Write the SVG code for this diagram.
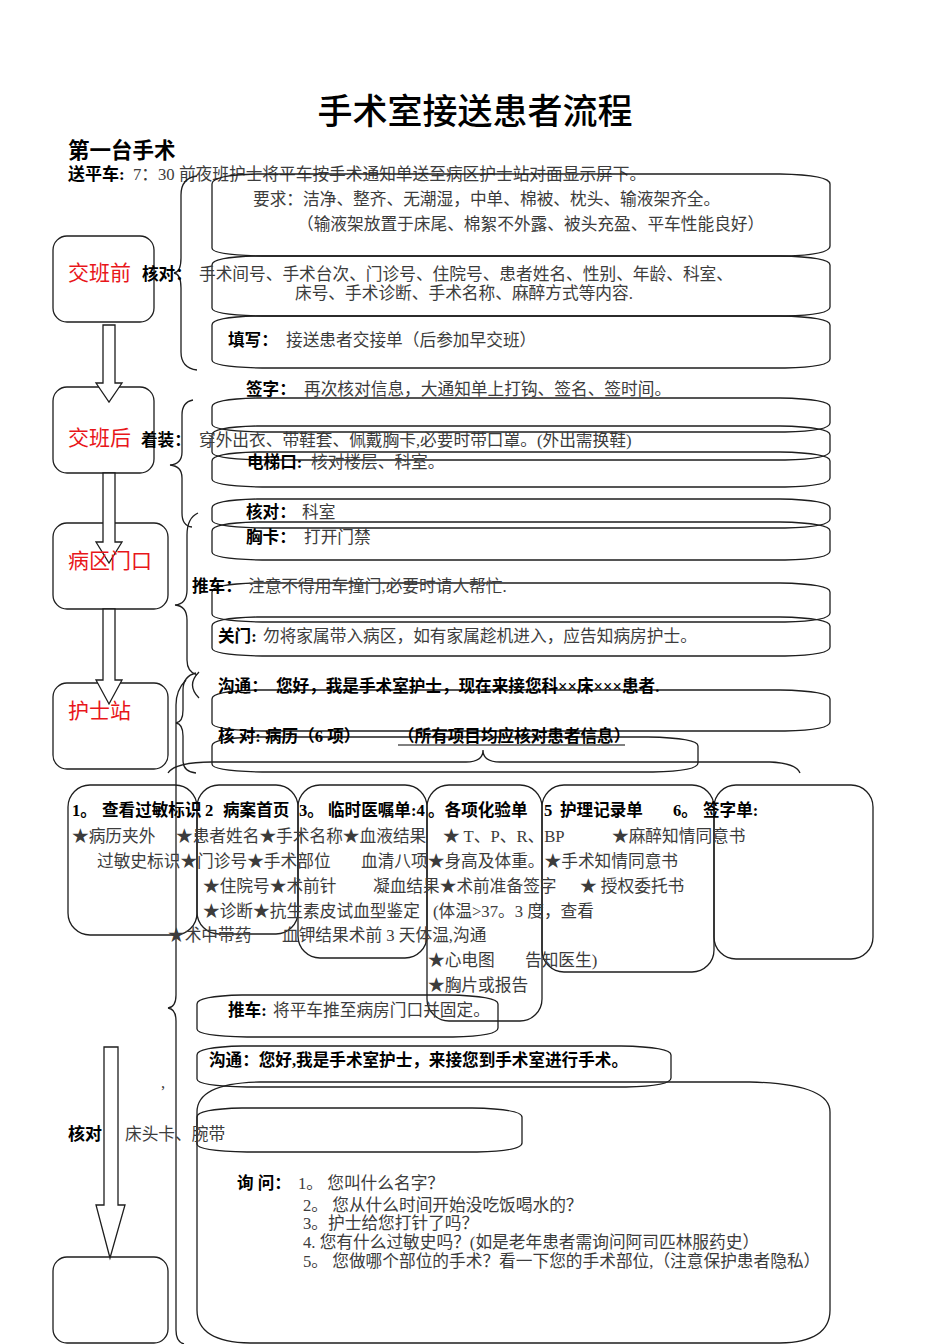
<svg xmlns="http://www.w3.org/2000/svg" width="950" height="1344" viewBox="0 0 950 1344">
<style>
.t{font-family:"Liberation Serif","Noto Sans CJK SC",serif;font-size:16.7px;fill:#3c3c3c}
.b{font-family:"Liberation Serif","Noto Sans CJK SC",sans-serif;font-size:16.6px;font-weight:bold;fill:#000}
.r{font-family:"Liberation Sans","Noto Sans CJK SC",sans-serif;font-size:21px;fill:#e8161a}
.s{fill:none;stroke:#1e1e1e;stroke-width:1.3}
.box{fill:none;stroke:#1e1e1e;stroke-width:1.3}
.arr{fill:#fff;stroke:#1e1e1e;stroke-width:1.3}
</style>
<rect width="950" height="1344" fill="#fff"/>

<g id="header">
<text x="475" y="124" text-anchor="middle" style="font-family:'Liberation Sans','Noto Sans CJK SC',sans-serif;font-size:35px;font-weight:500;fill:#000">手术室接送患者流程</text>
<text x="68" y="158" style="font-family:'Liberation Sans','Noto Sans CJK SC',sans-serif;font-size:21.5px;font-weight:bold;fill:#000">第一台手术</text>
<text x="68" y="180" class="b" style="font-size:17px">送平车:</text>
<text x="133" y="180" class="t">7：30 前夜班护士将平车按手术通知单送至病区护士站对面显示屏下。</text>
</g>

<g id="stage-boxes">
<rect x="53" y="236" width="101" height="86" rx="14" class="box"/>
<rect x="53" y="387" width="101" height="86" rx="14" class="box"/>
<rect x="53" y="523" width="115" height="86" rx="14" class="box"/>
<rect x="53" y="683" width="115" height="86" rx="14" class="box"/>
<rect x="53" y="1257" width="115" height="86" rx="14" class="box"/>
</g>

<g id="connectors">
<path class="arr" d="M103,325 H115 V383 H122 L109,402 L96,383 H103 Z"/>
<path class="arr" d="M103,473 H115 V542 H122 L109,563 L96,542 H103 Z"/>
<path class="arr" d="M103,609 H115 V680 H122 L109,704 L96,680 H103 Z"/>
<path class="arr" d="M104,1047 H118 V1205 H125 L110,1258 L96,1205 H104 Z"/>
<path class="s" d="M197,176 Q181,178 181,195 V258 Q181,272 174,273 Q181,274 181,288 V352 Q181,368 197,370"/>
<path class="s" d="M193,400 Q182,402 182,415 V452 Q182,464 170,465 Q182,466 182,478 V513 Q182,526 192,527"/>
<path class="s" d="M198,513 Q187,518 187,535 V590 Q187,604 175,605 Q187,606 187,620 V660 Q187,672 197,675"/>
<path class="s" d="M199,672 Q186,685 199,698"/>
<path class="s" d="M196,673 Q183,676 183,690 V710 Q183,722 176,723 Q183,724 183,736 V760 Q183,772 196,773"/>
<path class="s" d="M186,680 Q176,690 176,705 V995 Q176,1007 168,1008 Q176,1009 176,1021 V1330 Q176,1342 184,1344"/>
<path class="s" d="M168,773 Q175,762 212,762 H466 Q483,762 483,750 Q483,762 500,762 H770 Q796,763 800,773"/>
</g>

<g id="scroll-boxes">
<path class="s" d="M212,248 V184 Q212,175 257,174 H780 Q830,175 830,184 V246 Q830,255 785,256 H262 Q212,255 212,248 Z"/>
<path class="s" d="M212,308 V265 Q212,257 257,256 H780 Q830,257 830,265 V307 Q830,315 785,316 H262 Q212,315 212,308 Z"/>
<path class="s" d="M212,360 V325 Q212,317 257,316 H780 Q830,317 830,325 V359 Q830,367 785,368 H262 Q212,367 212,360 Z"/>
<path class="s" d="M212,424 V407 Q212,399 257,398 H780 Q830,399 830,407 V423 Q830,431 785,432 H262 Q212,431 212,424 Z"/>
<path class="s" d="M212,452 V435 Q212,427 257,426 H780 Q830,427 830,435 V451 Q830,459 785,460 H262 Q212,459 212,452 Z"/>
<path class="s" d="M212,479 V461 Q212,453 257,452 H780 Q830,453 830,461 V478 Q830,486 785,487 H262 Q212,486 212,479 Z"/>
<path class="s" d="M212,520 V508 Q212,500 257,499 H780 Q830,500 830,508 V519 Q830,527 785,528 H262 Q212,527 212,520 Z"/>
<path class="s" d="M212,552 V531 Q212,523 257,522 H780 Q830,523 830,531 V551 Q830,559 785,560 H262 Q212,559 212,552 Z"/>
<path class="s" d="M212,614 V592 Q212,584 257,583 H780 Q830,584 830,592 V613 Q830,621 785,622 H262 Q212,621 212,614 Z"/>
<path class="s" d="M212,648 V626 Q212,618 257,617 H780 Q830,618 830,626 V647 Q830,655 785,656 H262 Q212,655 212,648 Z"/>
<path class="s" d="M212,723 V699 Q212,691 257,690 H780 Q830,691 830,699 V722 Q830,730 785,731 H262 Q212,730 212,723 Z"/>
<path class="s" d="M212,764 V746 Q212,738 257,737 H648 Q698,738 698,746 V763 Q698,771 653,772 H262 Q212,771 212,764 Z"/>
<path class="s" d="M197,1029 V1004 Q197,996 242,995 H448 Q498,996 498,1004 V1028 Q498,1036 453,1037 H247 Q197,1036 197,1029 Z"/>
<path class="s" d="M197,1079 V1055 Q197,1047 242,1046 H621 Q671,1047 671,1055 V1078 Q671,1086 626,1087 H247 Q197,1086 197,1079 Z"/>
<path class="s" d="M197,1310 V1112 Q197,1083 260,1082 H750 Q830,1084 830,1112 V1310 Q830,1342 780,1343 H250 Q197,1342 197,1310 Z"/>
<path class="s" d="M197,1144 V1117 Q197,1109 242,1108 H472 Q522,1109 522,1117 V1143 Q522,1151 477,1152 H247 Q197,1151 197,1144 Z"/>
</g>

<g id="record-boxes">
<rect x="68" y="785" width="129" height="150" rx="22" class="box"/>
<rect x="197" y="785" width="101" height="149" rx="22" class="box"/>
<rect x="298" y="785" width="129" height="173" rx="22" class="box"/>
<rect x="427" y="785" width="115" height="236" rx="22" class="box"/>
<rect x="542" y="785" width="172" height="187" rx="22" class="box"/>
<rect x="714" y="785" width="159" height="174" rx="22" class="box"/>
</g>

<g id="stage-labels">
<text x="68" y="280" class="r">交班前</text>
<text x="68" y="445" class="r">交班后</text>
<text x="68" y="568" class="r">病区门口</text>
<text x="68" y="718" class="r">护士站</text>
</g>

<g id="before-shift">
<text x="253" y="205" class="t">要求：洁净、整齐、无潮湿，中单、棉被、枕头、输液架齐全。</text>
<text x="297" y="230" class="t">（输液架放置于床尾、棉絮不外露、被头充盈、平车性能良好）</text>
<text x="142" y="280" class="b">核对：</text>
<text x="199" y="280" class="t">手术间号、手术台次、门诊号、住院号、患者姓名、性别、年龄、科室、</text>
<text x="295" y="299" class="t">床号、手术诊断、手术名称、麻醉方式等内容.</text>
<text x="228" y="346" class="b">填写：</text>
<text x="286" y="346" class="t">接送患者交接单（后参加早交班）</text>
</g>

<g id="after-shift">
<text x="246" y="395" class="b">签字：</text>
<text x="304" y="395" class="t">再次核对信息，大通知单上打钩、签名、签时间。</text>
<text x="141" y="446" class="b">着装：</text>
<text x="199" y="446" class="t">穿外出衣、带鞋套、佩戴胸卡,必要时带口罩。(外出需换鞋)</text>
<text x="247" y="468" class="b">电梯口:</text>
<text x="311" y="468" class="t">核对楼层、科室。</text>
</g>

<g id="ward-door">
<text x="246" y="518" class="b">核对：</text>
<text x="302" y="518" class="t">科室</text>
<text x="246" y="543" class="b">胸卡：</text>
<text x="304" y="543" class="t">打开门禁</text>
<text x="192" y="592" class="b">推车：</text>
<text x="248" y="592" class="t">注意不得用车撞门,必要时请人帮忙.</text>
<text x="218" y="642" class="b">关门:</text>
<text x="263" y="642" class="t">勿将家属带入病区，如有家属趁机进入，应告知病房护士。</text>
</g>

<g id="nurse-station">
<text x="218" y="692" class="b">沟通：</text>
<text x="276" y="692" class="b">您好，我是手术室护士，现在来接您科××床×××患者.</text>
<text x="218" y="742" class="b">核 对: 病历（6 项）</text>
<text x="398" y="742" class="b">（所有项目均应核对患者信息）</text>
<line x1="398" y1="745" x2="625" y2="745" stroke="#000" stroke-width="1"/>
</g>

<g id="records">
<text x="72" y="816" class="b">1。</text>
<text x="102" y="816" class="b">查看过敏标识</text>
<text x="205" y="816" class="b">2</text>
<text x="223" y="816" class="b">病案首页</text>
<text x="299" y="816" class="b">3。</text>
<text x="328" y="816" class="b">临时医嘱单:4</text>
<text x="428" y="816" class="b">。各项化验单</text>
<text x="544" y="816" class="b">5</text>
<text x="560" y="816" class="b">护理记录单</text>
<text x="673" y="816" class="b">6。</text>
<text x="703" y="816" class="b">签字单:</text>

<text x="72" y="842" class="t">★病历夹外</text>
<text x="176" y="842" class="t">★患者姓名★手术名称★血液结果</text>
<text x="443" y="842" class="t">★ T、P、R、BP</text>
<text x="612" y="842" class="t">★麻醉知情同意书</text>

<text x="97" y="867" class="t">过敏史标识★门诊号★手术部位</text>
<text x="361" y="867" class="t">血清八项★身高及体重。★手术知情同意书</text>

<text x="203" y="892" class="t">★住院号★术前针</text>
<text x="373" y="892" class="t">凝血结果★术前准备签字</text>
<text x="580" y="892" class="t">★ 授权委托书</text>

<text x="203" y="917" class="t">★诊断★抗生素皮试血型鉴定</text>
<text x="433" y="917" class="t">(体温&gt;37。3 度，查看</text>

<text x="168" y="941" class="t">★术中带药</text>
<text x="282" y="941" class="t">血钾结果术前 3 天体温,沟通</text>

<text x="428" y="966" class="t">★心电图</text>
<text x="525" y="966" class="t">告知医生)</text>
<text x="428" y="991" class="t">★胸片或报告</text>
</g>

<g id="transfer">
<text x="228" y="1016" class="b">推车:</text>
<text x="273" y="1016" class="t">将平车推至病房门口并固定。</text>
<text x="209" y="1066" class="b">沟通：您好,我是手术室护士，来接您到手术室进行手术。</text>
<text x="161" y="1088" class="t">,</text>
<text x="68" y="1140" class="b" style="font-size:17px">核对</text>
<text x="125" y="1140" class="t">床头卡、腕带</text>
</g>

<g id="inquiry">
<text x="237" y="1189" class="b">询 问：</text>
<text x="298" y="1189" class="t">1。 您叫什么名字？</text>
<text x="303" y="1211" class="t">2。 您从什么时间开始没吃饭喝水的？</text>
<text x="303" y="1229" class="t">3。护士给您打针了吗？</text>
<text x="303" y="1248" class="t">4. 您有什么过敏史吗？(如是老年患者需询问阿司匹林服药史）</text>
<text x="303" y="1267" class="t">5。 您做哪个部位的手术？看一下您的手术部位,（注意保护患者隐私）</text>
</g>
</svg>
